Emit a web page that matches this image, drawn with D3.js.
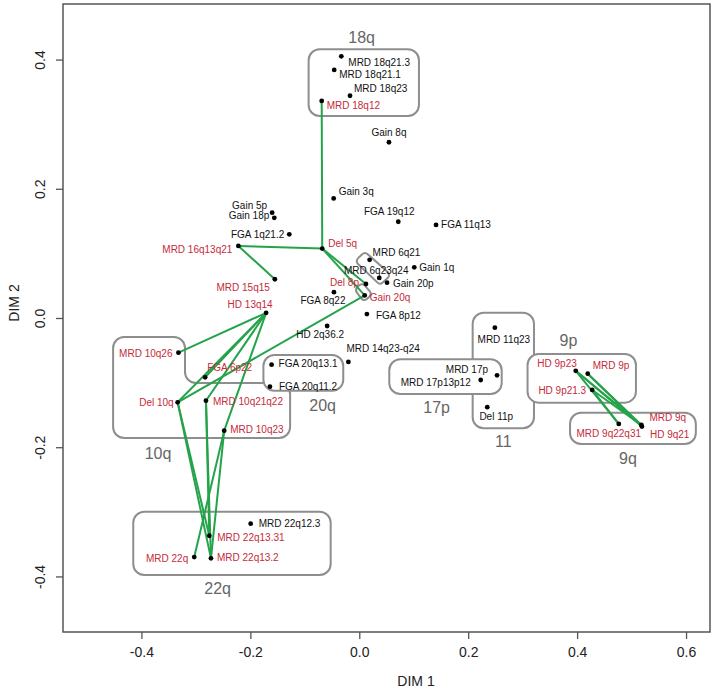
<!DOCTYPE html>
<html><head><meta charset="utf-8">
<script src="https://cdn.jsdelivr.net/npm/d3@7"></script>
<style>
body{margin:0;background:#fff}
svg{display:block}
text{font-family:"Liberation Sans",Arial,sans-serif}
</style>
</head><body>
<svg id="chart" width="714" height="690"></svg>
<script>
// ---------------- data ----------------
const labels = ["MRD 18q21.3","MRD 18q21.1","MRD 18q23","MRD 18q12","Gain 8q","Gain 3q","Gain 5p","Gain 18p",
  "FGA 1q21.2","FGA 19q12","FGA 11q13","Del 5q","MRD 16q13q21","MRD 6q21","MRD 6q23q24","Gain 20p","Del 8p",
  "Gain 20q","FGA 8q22","FGA 8p12","HD 2q36.2","Gain 1q","MRD 14q23-q24","MRD 15q15","HD 13q14","MRD 10q26",
  "FGA 6p22","Del 10q","MRD 10q21q22","MRD 10q23","FGA 20q13.1","FGA 20q11.2","MRD 11q23","MRD 17p",
  "MRD 17p13p12","Del 11p","HD 9p23","MRD 9p","HD 9p21.3","MRD 9q22q31","MRD 9q","HD 9q21",
  "MRD 22q12.3","MRD 22q13.31","MRD 22q","MRD 22q13.2"];
const dim1 = [-0.033,-0.046,-0.017,-0.069,0.0545,-0.047,-0.160,-0.156,
  -0.1285,0.0716,0.141,-0.068,-0.222,0.019,0.0367,0.051,0.0123,
  0.010,-0.0465,0.014,-0.059,0.101,-0.020,-0.155,-0.171,-0.332,
  -0.283,-0.3335,-0.2815,-0.248,-0.161,-0.164,0.249,0.253,
  0.223,0.235,0.3975,0.4195,0.4277,0.4765,0.518,0.519,
  -0.1994,-0.2754,-0.303,-0.2723];
const dim2 = [0.405,0.384,0.344,0.336,0.272,0.185,0.163,0.155,
  0.1295,0.149,0.144,0.1075,0.1115,0.090,0.062,0.0546,0.0526,
  0.035,0.040,0.006,-0.0124,0.0785,-0.068,0.060,0.008,-0.0537,
  -0.0918,-0.1305,-0.128,-0.1744,-0.0723,-0.1063,-0.015,-0.0887,
  -0.096,-0.138,-0.0817,-0.0862,-0.1114,-0.164,-0.1656,-0.168,
  -0.3184,-0.337,-0.370,-0.372];
const highlighted = ["MRD 18q12","Del 5q","Del 8p","Gain 20q","MRD 16q13q21","MRD 15q15","HD 13q14","MRD 10q26",
  "FGA 6p22","Del 10q","MRD 10q21q22","MRD 10q23","MRD 22q","MRD 22q13.31","MRD 22q13.2","HD 9p23","MRD 9p",
  "HD 9p21.3","MRD 9q22q31","MRD 9q","HD 9q21"];
const edgeFrom = ["MRD 18q12","Del 5q","MRD 16q13q21","Del 5q","Del 5q","Gain 20q","HD 13q14","HD 13q14","HD 13q14",
  "HD 13q14","HD 13q14","Del 10q","Del 10q","MRD 10q21q22","MRD 10q21q22","MRD 10q23","MRD 10q23",
  "HD 9p23","HD 9p23","HD 9p23","MRD 9p","MRD 9p","HD 9p21.3","HD 9p21.3"];
const edgeTo = ["Del 5q","MRD 16q13q21","MRD 15q15","Del 8p","Gain 20q","Del 10q","MRD 10q26","FGA 6p22","Del 10q",
  "MRD 10q21q22","MRD 10q23","MRD 22q13.31","MRD 22q13.2","MRD 22q13.2","MRD 22q13.31","MRD 22q","MRD 22q13.2",
  "MRD 9q22q31","MRD 9q","HD 9q21","MRD 9q","HD 9q21","MRD 9q22q31","MRD 9q"];
// group regions (data units, outline vertices) and their names
const groupNames = ["18q","10q","20q","22q","11","17p","9p","9q","",""];
const groupOutlines = [
  [[-0.093,0.416],[0.1096,0.416],[0.1096,0.3127],[-0.093,0.3127]],
  [[-0.452,-0.0294],[-0.320,-0.0294],[-0.320,-0.1006],[-0.127,-0.1006],[-0.127,-0.1857],[-0.452,-0.1857]],
  [[-0.176,-0.0573],[-0.0294,-0.0573],[-0.0294,-0.1125],[-0.176,-0.1125]],
  [[-0.415,-0.2998],[-0.0525,-0.2998],[-0.0525,-0.3978],[-0.415,-0.3978]],
  [[0.2082,0.0082],[0.3208,0.0082],[0.3208,-0.1707],[0.2082,-0.1707]],
  [[0.0551,-0.0639],[0.2615,-0.0639],[0.2615,-0.1176],[0.0551,-0.1176]],
  [[0.309,-0.0557],[0.508,-0.0557],[0.508,-0.131],[0.309,-0.131]],
  [[0.387,-0.1466],[0.618,-0.1466],[0.618,-0.195],[0.387,-0.195]],
  [[0.0104,0.1026],[-0.0079,0.0882],[0.038,0.0511],[0.0582,0.0666]],
  [[0.0050,0.0557],[-0.0079,0.0433],[0.0086,0.0248],[0.0233,0.0371]]
];
const groupLabelX = [0.0044,-0.3696,-0.0672,-0.26,0.2644,0.142,0.384,0.4934];
const groupLabelY = [0.435,-0.209,-0.1347,-0.418,-0.1915,-0.138,-0.0351,-0.2167];
const xTicks = [-0.4,-0.2,0.0,0.2,0.4,0.6];
const yTicks = [-0.4,-0.2,0.0,0.2,0.4];
const xTitle = "DIM 1", yTitle = "DIM 2";

// ---------------- label placement (layout) ----------------
const labelAnchor = ["start","start","start","start","middle","start","end","end",
  "end","middle","start","start","end","start","middle","start","end",
  "start","middle","start","middle","start","start","end","middle","end",
  "start","end","start","start","start","start","middle","end",
  "end","middle","end","start","end","middle","start","start",
  "start","start","end","start"];
const labelDx = [7,5,4,5,0,5,-5,-5, -5,-9,5,6,-6,3,-3,6,-7, 5,-11,9,-7,5,-2,-5,-16,-6,
  2,-4,7,6,7,9,9,-9, -10,9,1,5,-6,-10,8,8, 8,8,-6,6];
const labelDy = [6,5,-7,5,-10,-7,-7,-2, 0,-10,0,-5,4,-7,-7,1,-2, 2,8,1,8,0,-13,8,-8,1,
  -10,0,1,-1,-1,0,12,-6, 2,9,-7,-8,1,10,-7,8, 0,2,1,-1];

// ---------------- drawing ----------------
const svg = d3.select("#chart");
const plot = {left:63, right:710, top:4, bottom:632};
const x = d3.scaleLinear().domain([-0.544,0.644]).range([plot.left, plot.right]);
const y = d3.scaleLinear().domain([-0.486,0.486]).range([plot.bottom, plot.top]);

const red = "#c52a3a", green = "#25a34a", boxCol = "#8e8e8e";
const fmt = v => d3.format(".1f")(v).replace("\u2212","-");

function roundedPath(pts, r){
  const p = d3.path(), n = pts.length;
  const mid = (a,b)=>[(a[0]+b[0])/2,(a[1]+b[1])/2];
  const s = mid(pts[n-1], pts[0]);
  p.moveTo(s[0], s[1]);
  for(let i=0;i<n;i++){
    const c = pts[i], m = mid(pts[i], pts[(i+1)%n]);
    p.arcTo(c[0], c[1], m[0], m[1], r);
  }
  p.closePath();
  return p.toString();
}

const gBoxes = svg.append("g");
groupOutlines.forEach((poly,i)=>{
  const pts = poly.map(d=>[x(d[0]), y(d[1])]);
  gBoxes.append("path")
    .attr("d", roundedPath(pts, groupNames[i] ? 11 : 4))
    .attr("fill", "#fff")
    .attr("stroke", boxCol)
    .attr("stroke-width", 2);
});
groupNames.forEach((g,i)=>{
  if(!g) return;
  gBoxes.append("text")
    .attr("x", x(groupLabelX[i])).attr("y", y(groupLabelY[i]))
    .attr("text-anchor","middle").attr("dy","0.35em")
    .attr("font-size", 16).attr("fill","#666")
    .text(g);
});

const idx = new Map(labels.map((l,i)=>[l,i]));
svg.append("g").selectAll("line").data(edgeFrom.map((f,i)=>[idx.get(f), idx.get(edgeTo[i])]))
  .join("line")
  .attr("x1", d=>x(dim1[d[0]])).attr("y1", d=>y(dim2[d[0]]))
  .attr("x2", d=>x(dim1[d[1]])).attr("y2", d=>y(dim2[d[1]]))
  .attr("stroke", green).attr("stroke-width", 2);

svg.append("g").selectAll("circle").data(labels)
  .join("circle")
  .attr("cx", (d,i)=>x(dim1[i])).attr("cy", (d,i)=>y(dim2[i]))
  .attr("r", 2.4).attr("fill", "#000");

svg.append("g").selectAll("text").data(labels)
  .join("text")
  .attr("x", (d,i)=>x(dim1[i]) + labelDx[i])
  .attr("y", (d,i)=>y(dim2[i]) + labelDy[i])
  .attr("dy", "0.35em")
  .attr("text-anchor", (d,i)=>labelAnchor[i])
  .attr("font-size", 10)
  .attr("fill", d => highlighted.includes(d) ? red : "#111")
  .text(d=>d);

// frame
svg.append("rect")
  .attr("x", plot.left).attr("y", plot.top)
  .attr("width", plot.right-plot.left).attr("height", plot.bottom-plot.top)
  .attr("fill","none").attr("stroke","#555").attr("stroke-width",1.5);

// axes
const xAxis = svg.append("g").attr("transform", `translate(0,${plot.bottom})`)
  .call(d3.axisBottom(x).tickValues(xTicks).tickSize(7).tickPadding(8).tickFormat(fmt));
xAxis.select(".domain").remove();
xAxis.selectAll("line").attr("stroke","#555").attr("stroke-width",1.3);
xAxis.selectAll("text").attr("font-size",14).attr("fill","#222")
  .attr("font-family","Liberation Sans, Arial, sans-serif");

const yAxis = svg.append("g").attr("transform", `translate(${plot.left},0)`)
  .call(d3.axisLeft(y).tickValues(yTicks).tickSize(7).tickFormat(fmt));
yAxis.select(".domain").remove();
yAxis.selectAll("line").attr("stroke","#555").attr("stroke-width",1.3);
yAxis.selectAll("text").remove();
yAxis.selectAll(".tick").append("text")
  .attr("transform","translate(-23,0) rotate(-90)")
  .attr("text-anchor","middle")
  .attr("dy","0.35em")
  .attr("font-size",14).attr("fill","#222")
  .attr("font-family","Liberation Sans, Arial, sans-serif")
  .text(fmt);

svg.append("text").attr("x", 416).attr("y", 681).attr("dy","0.35em")
  .attr("text-anchor","middle").attr("font-size",14).attr("fill","#222").text(xTitle);
svg.append("text").attr("transform","translate(14,303) rotate(-90)").attr("dy","0.35em")
  .attr("text-anchor","middle").attr("font-size",14).attr("fill","#222").text(yTitle);
</script>
</body></html>
